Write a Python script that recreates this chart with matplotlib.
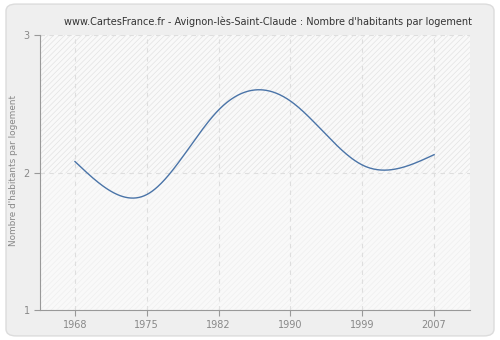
import matplotlib
matplotlib.use('Agg')
import matplotlib.pyplot as plt
from matplotlib.patches import FancyBboxPatch, Rectangle
import numpy as np

# Data (census years shown evenly spaced)
years = ['1968', '1975', '1982', '1990', '1999', '2007']
values = [2.08, 1.84, 2.455, 2.52, 2.055, 2.13]
yticks = [1, 2, 3]

title = "www.CartesFrance.fr - Avignon-lès-Saint-Claude : Nombre d'habitants par logement"
ylabel = "Nombre d'habitants par logement"


def natural_spline(x, y, n=400):
    # smooth drawing of the line through the points (natural cubic spline)
    x = np.asarray(x, float)
    y = np.asarray(y, float)
    k = len(x)
    h = np.diff(x)
    A = np.zeros((k, k))
    b = np.zeros(k)
    A[0, 0] = A[-1, -1] = 1
    for i in range(1, k - 1):
        A[i, i - 1] = h[i - 1]
        A[i, i] = 2 * (h[i - 1] + h[i])
        A[i, i + 1] = h[i]
        b[i] = 3 * ((y[i + 1] - y[i]) / h[i] - (y[i] - y[i - 1]) / h[i - 1])
    c = np.linalg.solve(A, b)
    xs = np.linspace(x[0], x[-1], n)
    ys = np.empty_like(xs)
    for j, xv in enumerate(xs):
        i = min(np.searchsorted(x, xv, side='right') - 1, k - 2)
        dx = xv - x[i]
        bi = (y[i + 1] - y[i]) / h[i] - h[i] * (2 * c[i] + c[i + 1]) / 3
        di = (c[i + 1] - c[i]) / (3 * h[i])
        ys[j] = y[i] + bi * dx + c[i] * dx ** 2 + di * dx ** 3
    return xs, ys


plt.rcParams['hatch.linewidth'] = 0.5

fig = plt.figure(figsize=(5, 3.4), dpi=100, facecolor='white')

# outer rounded panel
panel = FancyBboxPatch((0.012, 0.012), 0.976, 0.976,
                       boxstyle='round,pad=0,rounding_size=0.02',
                       transform=fig.transFigure, facecolor='#efefef',
                       edgecolor='#dcdcdc', linewidth=1, zorder=-10)
fig.patches.append(panel)

ax = fig.add_axes([0.08, 0.088, 0.86, 0.809])
ax.set_zorder(1)
ax.set_facecolor('#fbfbfb')
# striped background bands, upper one a bit stronger
ax.add_patch(Rectangle((0, 0.5), 1, 0.5, transform=ax.transAxes, facecolor='#f9f9f9',
                       edgecolor='#e3e3e3', hatch='//////', linewidth=0, zorder=0))
ax.add_patch(Rectangle((0, 0), 1, 0.5, transform=ax.transAxes, facecolor='#f9f9f9',
                       edgecolor='#efefef', hatch='//////', linewidth=0, zorder=0))

pos = np.arange(len(years))
xs, ys = natural_spline(pos, values)
ax.plot(xs, ys, color='#4a74a8', linewidth=1, zorder=3)

ax.set_xlim(-0.487, 5.5)
ax.set_ylim(1, 3)
ax.set_xticks(pos)
ax.set_xticklabels(years)
ax.set_yticks(yticks)
ax.set_yticklabels([str(t) for t in yticks])

ax.grid(True, linestyle=(0, (4, 4)), color='#dedede', linewidth=0.8)
ax.set_axisbelow(True)

for s in ['top', 'right']:
    ax.spines[s].set_visible(False)
for s in ['left', 'bottom']:
    ax.spines[s].set_color('#999999')
ax.tick_params(colors='#999999', labelcolor='#888888', labelsize=7, length=4)

fig.text(0.028, 0.5, ylabel, rotation=90, ha='center', va='center',
         color='#888888', fontsize=6.4)
fig.text(0.535, 0.935, title, ha='center', va='center', fontsize=7, color='#333333')

fig.savefig('out.png', dpi=100, facecolor='white')
